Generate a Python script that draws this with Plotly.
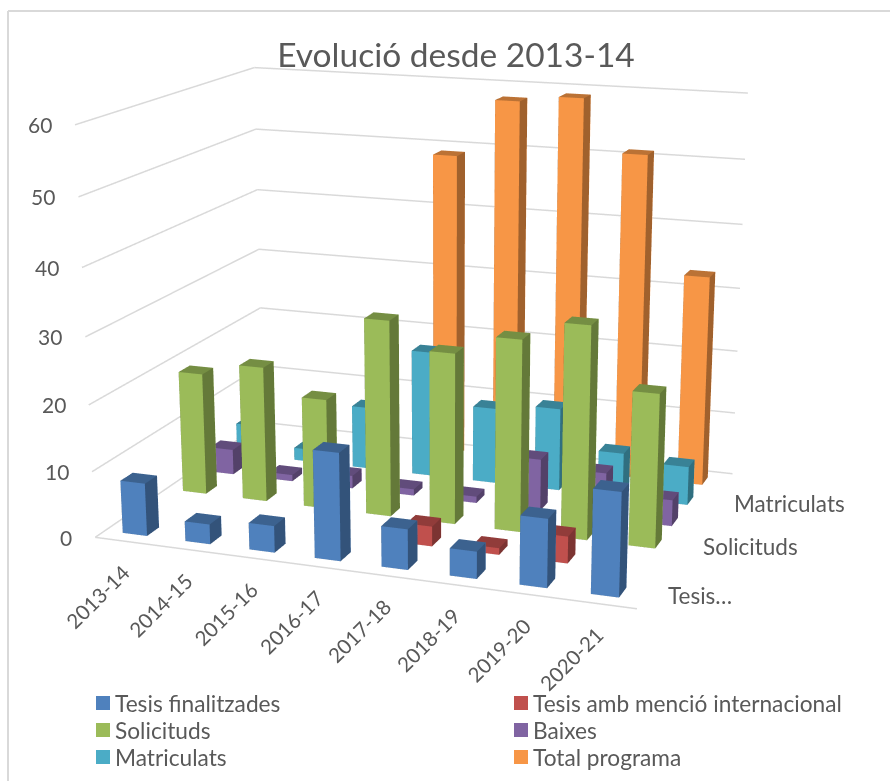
import plotly.graph_objects as go

categories = ["2013-14","2014-15","2015-16","2016-17","2017-18","2018-19","2019-20","2020-21"]
tesis_finalitzades = [8,3,4,16,6,4,10,15]
tesis_mencio = [0,0,0,0,3,1,4,0]
solicituds = [19,21,17,30,26,29,32,23]
baixes = [4,1,2,1,1,8,7,4]
matriculats = [5,2,10,20,12,13,7,6]
total_programa = [0,0,0,49,58,59,51,33]
series_names = ["Tesis finalitzades","Tesis amb menció internacional","Solicituds","Baixes","Matriculats","Total programa"]
series_values = [tesis_finalitzades,tesis_mencio,solicituds,baixes,matriculats,total_programa]
series_colors = ["#4F81BD","#C0504D","#9BBB59","#8064A2","#4BACC6","#F79646"]
depth_labels = {0:"Tesis…",2:"Solicituds",4:"Matriculats"}
z_ticks = [0,10,20,30,40,50,60]

# The scene is drawn on a taller canvas (long lens) and the page shows the part of it that fits the window.
W,H=890,1781
TOP=500
def px(x): return x/W
def py(y): return 1-(y+TOP)/H

eye=dict(x=1.845,y=-5.047,z=1.383)
center=dict(x=-0.030,y=0.224,z=-0.278)
aspect=dict(x=1.416,y=1.036,z=1.053)
NCAT,NSER=len(categories),len(series_names)
GRID="#D9D9D9"

def shade(hexc,fac):
    rgb=[int(hexc[i:i+2],16) for i in (1,3,5)]
    return "rgb(%d,%d,%d)"%tuple(int(v*fac) for v in rgb)

fig=go.Figure()
# walls: one grid line per value tick, plus the front edge of the floor
for z in z_ticks:
    fig.add_trace(go.Scatter3d(x=[0,0,NCAT],y=[0,NSER,NSER],z=[z,z,z],mode="lines",line=dict(color=GRID,width=3),showlegend=False,hoverinfo="skip"))
fig.add_trace(go.Scatter3d(x=[0,NCAT],y=[0,0],z=[0,0],mode="lines",line=dict(color=GRID,width=3),showlegend=False,hoverinfo="skip"))

BAR=0.39
CENTER=0.48
for r_i,(name,vals,col) in enumerate(zip(series_names,series_values,series_colors)):
    X,Y,Z,I,J_,K,FC=[],[],[],[],[],[],[]
    for c_i,v in enumerate(vals):
        if v<=0: continue
        x0,x1=c_i+CENTER-BAR/2,c_i+CENTER+BAR/2
        y0,y1=r_i+.5-BAR/2,r_i+.5+BAR/2
        b=len(X)
        X+=[x0,x1,x1,x0,x0,x1,x1,x0]
        Y+=[y0,y0,y1,y1,y0,y0,y1,y1]
        Z+=[0,0,0,0,v,v,v,v]
        faces=[((0,1,5),1),((0,5,4),1),((1,2,6),.65),((1,6,5),.65),((4,5,6),.76),((4,6,7),.76),
               ((3,2,6),1),((3,6,7),1),((0,3,7),.65),((0,7,4),.65),((0,1,2),.6),((0,2,3),.6)]
        for (a,bb,cc),fac in faces:
            I.append(b+a);J_.append(b+bb);K.append(b+cc);FC.append(shade(col,fac))
    if X:
        fig.add_trace(go.Mesh3d(x=X,y=Y,z=Z,i=I,j=J_,k=K,facecolor=FC,flatshading=True,showlegend=False,hoverinfo="skip",name=name,
            lighting=dict(ambient=1,diffuse=0,specular=0,fresnel=0,roughness=1)))

FONT="Lato"
TXT="#595959"
anns=[]
for z in z_ticks:
    anns.append(dict(x=0,y=0,z=z,text=str(z),showarrow=False,xanchor="right",yanchor="middle",xshift=-21,font=dict(family=FONT,size=21,color=TXT)))
for i,cat in enumerate(categories):
    anns.append(dict(x=i+.5,y=0,z=0,text=cat,showarrow=False,textangle=-45,xanchor="right",yanchor="top",xshift=10,yshift=-16,font=dict(family=FONT,size=20.5,color=TXT)))
for r_i,lab in depth_labels.items():
    anns.append(dict(x=NCAT,y=r_i+.5,z=0,text=lab,showarrow=False,xanchor="left",yanchor="middle",xshift=20,font=dict(family=FONT,size=22.5,color=TXT)))

legend_x=[96,514]
legend_y=[703,730,757]
shapes=[dict(type="line",xref="paper",yref="paper",x0=px(8),x1=px(8),y0=py(781),y1=py(11),line=dict(color=GRID,width=2)),
        dict(type="line",xref="paper",yref="paper",x0=px(8),x1=px(890),y0=py(11),y1=py(11),line=dict(color=GRID,width=2))]
page_anns=[]
for i,(name,col) in enumerate(zip(series_names,series_colors)):
    lx,ly=legend_x[i%2],legend_y[i//2]
    shapes.append(dict(type="rect",xref="paper",yref="paper",x0=px(lx),x1=px(lx+14),y0=py(ly+7),y1=py(ly-7),fillcolor=col,line=dict(width=0)))
    page_anns.append(dict(x=px(lx+17),y=py(ly),xref="paper",yref="paper",text=name,showarrow=False,xanchor="left",yanchor="middle",font=dict(family=FONT,size=22.7,color=TXT)))

off=dict(showbackground=False,showticklabels=False,ticks="",title="",showspikes=False,zeroline=False,showline=False,showgrid=False)
fig.update_layout(
    width=W,height=H,margin=dict(l=0,r=0,t=0,b=0,autoexpand=False),paper_bgcolor="white",plot_bgcolor="white",showlegend=False,
    title=dict(text="Evolució desde 2013-14",x=px(456),xanchor="center",y=py(55),yanchor="middle",font=dict(family=FONT,size=33.5,color=TXT)),
    scene=dict(domain=dict(x=[0,1],y=[0,1]),aspectmode="manual",aspectratio=aspect,
        camera=dict(eye=eye,center=center,up=dict(x=0,y=0,z=1),projection=dict(type="perspective")),
        xaxis=dict(off,range=[0,NCAT]),
        yaxis=dict(off,range=[0,NSER]),
        zaxis=dict(off,range=[0,60]),
        annotations=anns),
    shapes=shapes,annotations=page_anns,
)
fig.write_html("out.html",config=dict(displayModeBar=False),
    post_script="document.documentElement.style.cssText='height:781px;overflow:hidden';document.body.style.cssText='margin:0;height:781px;overflow:hidden';document.getElementById('{plot_id}').style.marginTop='-%dpx';"%TOP)
